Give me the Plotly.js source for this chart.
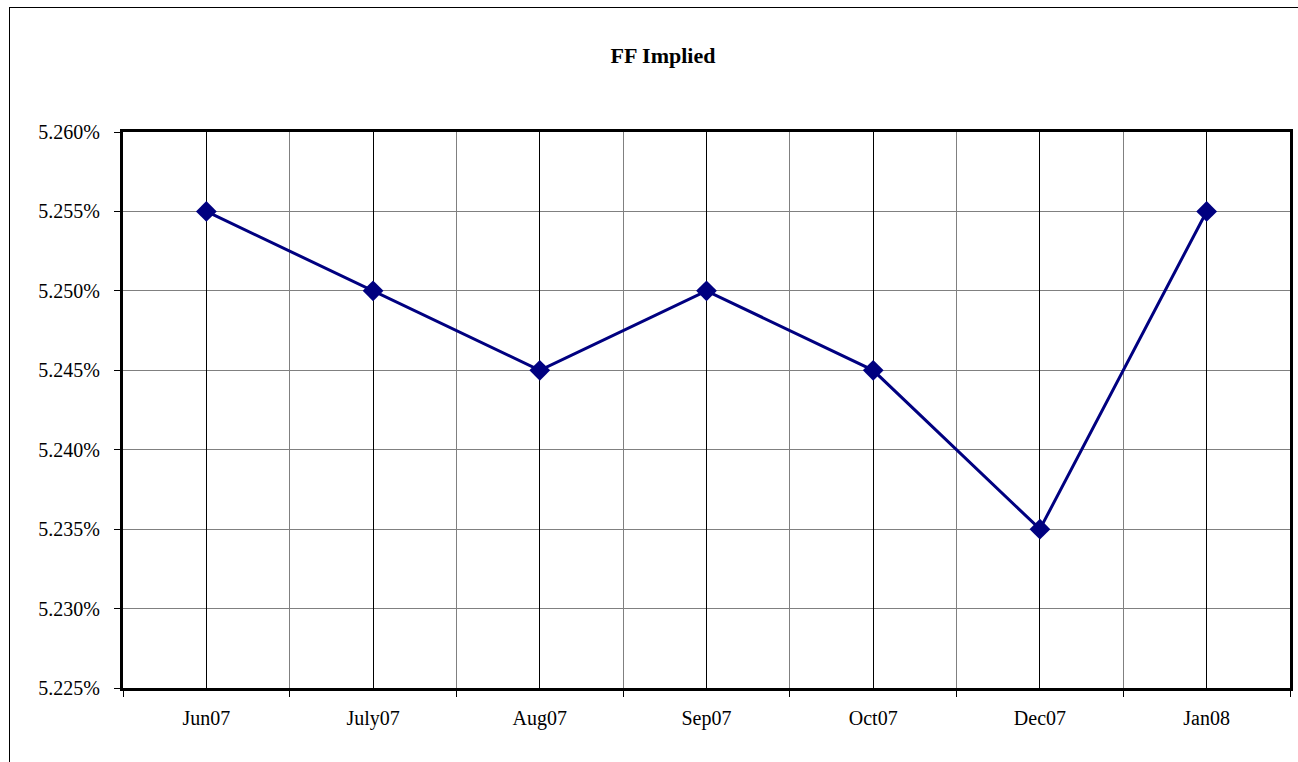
<!DOCTYPE html>
<html>
<head>
<meta charset="utf-8">
<script src="https://cdn.plot.ly/plotly-3.0.1.min.js"></script>
<style>
  html, body { margin: 0; padding: 0; background: #fff; }
  #wrap { position: relative; width: 1298px; height: 762px; overflow: hidden; }
  #chart { position: absolute; left: 0; top: 0; width: 1298px; height: 762px; }
  #frame { position: absolute; left: 9px; top: 7px; width: 1400px; height: 900px;
           border-left: 1px solid #000; border-top: 1px solid #000; pointer-events: none; }
</style>
</head>
<body>
<div id="wrap">
  <div id="chart"></div>
  <div id="frame"></div>
</div>
<script>
const categories = ["Jun07", "July07", "Aug07", "Sep07", "Oct07", "Dec07", "Jan08"];
const ffImplied = [0.05255, 0.05250, 0.05245, 0.05250, 0.05245, 0.05235, 0.05255];
const chartTitle = "FF Implied";

const fontFam = '"Liberation Serif", "Times New Roman", serif';
const xRange = [-0.5, categories.length - 0.5];

const traces = [
  { // placeholder on the main axis (carries category boundaries grid)
    x: categories, y: ffImplied, xaxis: 'x', yaxis: 'y',
    type: 'scatter', mode: 'lines', line: { width: 0 }, opacity: 0,
    hoverinfo: 'skip', showlegend: false
  },
  {
    x: categories, y: ffImplied, xaxis: 'x2', yaxis: 'y',
    type: 'scatter', mode: 'lines+markers',
    line: { color: '#000080', width: 3 },
    marker: { symbol: 'diamond', size: 16, color: '#000080' },
    showlegend: false, name: chartTitle
  }
];

const layout = {
  width: 1298, height: 762,
  margin: { l: 123, r: 8, t: 132, b: 74 },
  paper_bgcolor: '#fff', plot_bgcolor: '#fff',
  font: { family: fontFam, size: 20, color: '#000' },
  title: {
    text: '<b>' + chartTitle + '</b>',
    font: { family: fontFam, size: 22, color: '#000' },
    x: 663 / 1298, xref: 'container', xanchor: 'center',
    y: 1 - 55 / 762, yref: 'container', yanchor: 'middle'
  },
  xaxis: {
    type: 'category', categoryarray: categories, categoryorder: 'array',
    range: xRange, autorange: false,
    tickson: 'boundaries', ticks: 'outside', ticklen: 6, tickcolor: '#000', tickwidth: 1,
    showgrid: true, gridcolor: '#808080', gridwidth: 1,
    showline: true, linecolor: '#000', linewidth: 3, mirror: true,
    ticklabelstandoff: 10,
    tickfont: { family: fontFam, size: 20, color: '#000' },
    zeroline: false, fixedrange: true
  },
  xaxis2: {
    type: 'category', categoryarray: categories, categoryorder: 'array',
    range: xRange, autorange: false,
    overlaying: 'x', side: 'bottom',
    showgrid: true, gridcolor: '#000', gridwidth: 1,
    ticks: '', showticklabels: false, showline: false, zeroline: false, fixedrange: true
  },
  yaxis: {
    range: [0.05225, 0.05260], autorange: false, dtick: 0.00005, tick0: 0.05225,
    tickformat: '.3%',
    ticks: 'outside', ticklen: 6, tickcolor: '#000', tickwidth: 1,
    showgrid: true, gridcolor: '#808080', gridwidth: 1,
    showline: true, linecolor: '#000', linewidth: 3, mirror: true,
    ticklabelstandoff: 10,
    tickfont: { family: fontFam, size: 20, color: '#000' },
    zeroline: false, fixedrange: true
  }
};

Plotly.newPlot('chart', traces, layout, { staticPlot: true, displayModeBar: false });
</script>
</body>
</html>
